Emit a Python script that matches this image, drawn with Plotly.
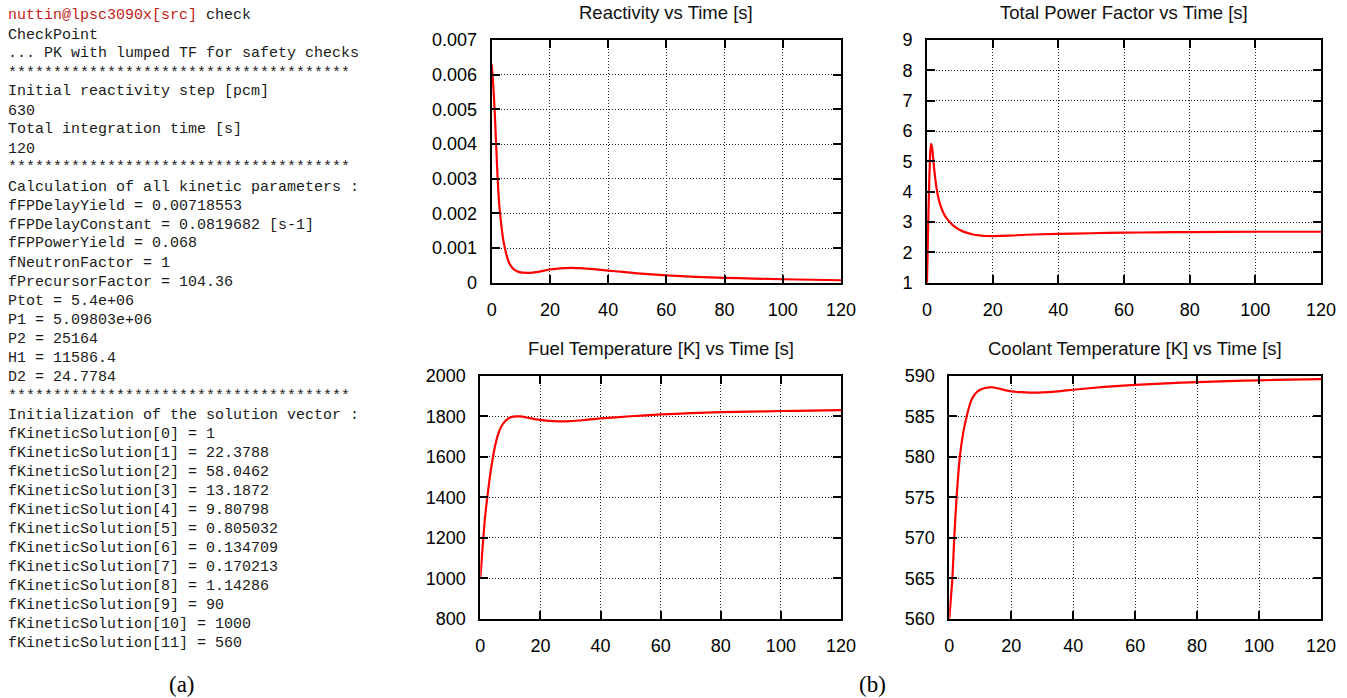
import plotly.graph_objects as go

# ---------------- data ----------------
t_react = [0, 0.5, 1, 1.5, 2, 2.5, 3, 3.5, 4, 5, 6, 7, 8, 9, 10, 11, 12, 13, 14, 16, 18, 20, 22, 25, 27,
           30, 35, 40, 45, 50, 60, 70, 80, 90, 100, 110, 120]
reactivity = [0.00630, 0.00575, 0.00500, 0.00402, 0.00308, 0.00234, 0.00190, 0.00152, 0.00122, 0.00083,
              0.00057, 0.00044, 0.00036, 0.00032, 0.00030, 0.00029, 0.000285, 0.000285, 0.00029, 0.00031,
              0.00035, 0.00038, 0.00040, 0.00042, 0.00043, 0.00042, 0.00039, 0.00035, 0.00031, 0.00027,
              0.00021, 0.00017, 0.00014, 0.00012, 0.00010, 0.000085, 0.00007]

t_power = [0, 0.3, 0.6, 0.9, 1.2, 1.5, 2, 2.5, 3, 3.5, 4, 5, 6, 7, 8, 10, 12, 14, 16, 18, 20, 25, 30,
           40, 50, 60, 70, 80, 100, 120]
power = [1.0, 2.6, 4.0, 5.1, 5.58, 5.5, 4.95, 4.45, 4.05, 3.78, 3.58, 3.3, 3.12, 2.99, 2.88, 2.74, 2.65,
         2.59, 2.56, 2.54, 2.535, 2.55, 2.58, 2.61, 2.63, 2.65, 2.66, 2.67, 2.68, 2.68]

t_fuel = [0, 0.5, 1, 1.5, 2, 2.5, 3, 4, 5, 6, 7, 8, 9, 10, 11, 12, 13, 14, 16, 18, 20, 23, 26, 30, 35,
          40, 50, 60, 70, 80, 90, 100, 110, 120]
fuel_temp = [1000, 1100, 1200, 1290, 1360, 1420, 1480, 1580, 1660, 1715, 1750, 1772, 1787, 1795, 1799,
             1800, 1800, 1799, 1793, 1787, 1783, 1778, 1776, 1777, 1783, 1790, 1801, 1810, 1816, 1821,
             1824, 1827, 1829, 1831]

t_cool = [0, 0.5, 1, 1.6, 2.35, 3.4, 4.5, 5.6, 7, 8, 9, 10, 11, 12, 13, 14, 16, 18, 20, 23, 26, 30, 35,
          40, 50, 60, 70, 80, 90, 100, 110, 120]
coolant_temp = [560, 562.5, 565, 570, 575, 580, 583, 585, 586.9, 587.6, 588.05, 588.3, 588.45, 588.55,
                588.6, 588.6, 588.45, 588.25, 588.1, 588.0, 587.95, 587.97, 588.1, 588.3, 588.65, 588.9,
                589.1, 589.25, 589.37, 589.47, 589.55, 589.62]

titles = ["Reactivity vs Time [s]", "Total Power Factor vs Time [s]",
          "Fuel Temperature [K] vs Time [s]", "Coolant Temperature [K] vs Time [s]"]

terminal_lines = [
    "check",
    "CheckPoint",
    "... PK with lumped TF for safety checks",
    "*" * 38,
    "Initial reactivity step [pcm]",
    "630",
    "Total integration time [s]",
    "120",
    "*" * 38,
    "Calculation of all kinetic parameters :",
    "fFPDelayYield = 0.00718553",
    "fFPDelayConstant = 0.0819682 [s-1]",
    "fFPPowerYield = 0.068",
    "fNeutronFactor = 1",
    "fPrecursorFactor = 104.36",
    "Ptot = 5.4e+06",
    "P1 = 5.09803e+06",
    "P2 = 25164",
    "H1 = 11586.4",
    "D2 = 24.7784",
    "*" * 38,
    "Initialization of the solution vector :",
    "fKineticSolution[0] = 1",
    "fKineticSolution[1] = 22.3788",
    "fKineticSolution[2] = 58.0462",
    "fKineticSolution[3] = 13.1872",
    "fKineticSolution[4] = 9.80798",
    "fKineticSolution[5] = 0.805032",
    "fKineticSolution[6] = 0.134709",
    "fKineticSolution[7] = 0.170213",
    "fKineticSolution[8] = 1.14286",
    "fKineticSolution[9] = 90",
    "fKineticSolution[10] = 1000",
    "fKineticSolution[11] = 560",
]
prompt = "nuttin@lpsc3090x[src]"

# ---------------- figure ----------------
W, H = 1347, 698

def px(x):
    return x / W

def py(y):
    return 1 - y / H

# plot boxes in window pixel coords: (left, right, top, bottom)
boxes = [(491.7, 841, 40, 282.7), (927, 1321, 40, 282.7),
         (480.3, 841, 376, 618.7), (949.3, 1321, 376, 618.7)]
yranges = [[0, 0.007], [1, 9], [800, 2000], [560, 590]]
ydticks = [0.001, 1, 200, 5]
series = [(t_react, reactivity), (t_power, power), (t_fuel, fuel_temp), (t_cool, coolant_temp)]
title_y = [13, 13, 348, 348]

fig = go.Figure()
layout = dict(width=W, height=H, margin=dict(l=0, r=0, t=0, b=0, autoexpand=False),
              paper_bgcolor="white", plot_bgcolor="white", showlegend=False,
              font=dict(family="Liberation Sans, Arial, sans-serif", color="black", size=18))

annotations = []
tick_font = dict(family="Liberation Sans, Arial, sans-serif", size=18, color="black")
for i, ((l, r, t, b), (xs, ys)) in enumerate(zip(boxes, series)):
    n = "" if i == 0 else str(i + 1)
    fig.add_trace(go.Scatter(x=xs, y=ys, mode="lines", xaxis="x" + n, yaxis="y" + n,
                             line=dict(color="#ff0000", width=2.2, shape="spline", smoothing=0.6)))
    common = dict(showline=True, linecolor="black", linewidth=2, mirror="allticks",
                  ticks="inside", ticklen=8, tickwidth=1.5, tickcolor="black",
                  showgrid=True, gridcolor="#222222", griddash="1px,2px", gridwidth=1.2,
                  zeroline=False, tickfont=tick_font, automargin=False)
    layout["xaxis" + n] = dict(domain=[px(l), px(r)], range=[0, 120], dtick=20, tick0=0,
                               anchor="y" + n, ticklabelstandoff=10, **common)
    layout["yaxis" + n] = dict(domain=[py(b), py(t)], range=yranges[i], dtick=ydticks[i],
                               tick0=yranges[i][0], anchor="x" + n, ticklabelstandoff=9, **common)
    annotations.append(dict(text=titles[i], x=px((l + r) / 2), y=py(title_y[i]), xref="paper",
                            yref="paper", xanchor="center", yanchor="middle", showarrow=False,
                            font=dict(family="Liberation Sans, Arial, sans-serif", size=18.5,
                                      color="#111111")))

mono = dict(family="Liberation Mono, DejaVu Sans Mono, monospace", size=15, color="#1a1a1a")
for k, line in enumerate(terminal_lines):
    txt = line
    if k == 0:
        txt = '<span style="color:#c41a1a">' + prompt + "</span> " + line
    annotations.append(dict(text=txt, x=px(6), y=py(16 + 19 * k), xref="paper", yref="paper",
                            xanchor="left", yanchor="middle", showarrow=False, font=mono))

serif = dict(family="Liberation Serif, DejaVu Serif, serif", size=23, color="black")
annotations.append(dict(text="(a)", x=px(182), y=py(684), xref="paper", yref="paper",
                        xanchor="center", yanchor="middle", showarrow=False, font=serif))
annotations.append(dict(text="(b)", x=px(872), y=py(684), xref="paper", yref="paper",
                        xanchor="center", yanchor="middle", showarrow=False, font=serif))

layout["annotations"] = annotations
fig.update_layout(**layout)
fig.write_html("out.html", config={"displayModeBar": False},
               post_script="document.body.style.margin='0px';document.body.style.overflow='hidden';")
